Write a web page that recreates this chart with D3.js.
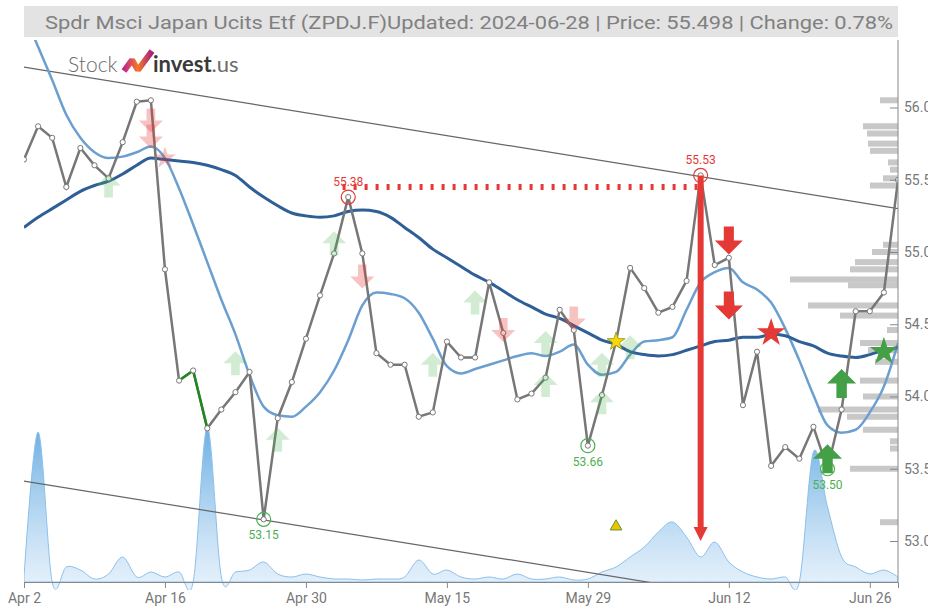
<!DOCTYPE html>
<meta charset="utf-8">
<script src="https://d3js.org/d3.v7.min.js"></script>
<body style="margin:0;background:#fff">
<div id="chart"></div>
</body>
<style>
text { font-family: Roboto, "Liberation Sans", sans-serif; }
.axis text { fill: #777; font-size: 14px; }
.axis line, .axis path { stroke: #888; }
</style>
<script>
// ---- data ----
var title = "Spdr Msci Japan Ucits Etf (ZPDJ.F)Updated: 2024-06-28 | Price: 55.498 | Change: 0.78%";
var tickLabels = ["Apr 2", "Apr 16", "Apr 30", "May 15", "May 29", "Jun 12", "Jun 26"];
var tickIndex = [0, 10, 20, 30, 40, 50, 60];
var priceTicks = [53.0, 53.5, 54.0, 54.5, 55.0, 55.5, 56.0];

// one close per trading day, Apr 2 .. Jun 28
var price = [55.64, 55.87, 55.79, 55.45, 55.72, 55.60, 55.51, 55.76, 56.04, 56.05,
  54.88, 54.11, 54.18, 53.78, 53.91, 54.03, 54.17, 53.15, 53.85, 54.10,
  54.40, 54.70, 54.99, 55.38, 54.99, 54.30, 54.22, 54.22, 53.86, 53.89,
  54.38, 54.27, 54.27, 54.79, 54.44, 53.98, 54.02, 54.13, 54.60, 54.46,
  53.66, 54.01, 54.38, 54.89, 54.75, 54.58, 54.62, 54.80, 55.53, 54.91,
  54.96, 53.94, 54.31, 53.52, 53.65, 53.57, 53.79, 53.50, 53.91, 54.59,
  54.59, 54.72, 55.498];

var maLong = [55.17, 55.24, 55.30, 55.36, 55.42, 55.46, 55.49, 55.54, 55.60, 55.65,
  55.64, 55.63, 55.62, 55.60, 55.57, 55.53, 55.45, 55.38, 55.32, 55.27,
  55.25, 55.24, 55.25, 55.28, 55.29, 55.28, 55.24, 55.17, 55.10, 55.02,
  54.96, 54.90, 54.84, 54.79, 54.73, 54.67, 54.62, 54.57, 54.54, 54.49,
  54.44, 54.39, 54.36, 54.31, 54.29, 54.28, 54.29, 54.32, 54.35, 54.38,
  54.39, 54.41, 54.41, 54.43, 54.42, 54.38, 54.35, 54.30, 54.28, 54.27,
  54.29, 54.32, 54.34];

var maShort = [56.65, 56.42, 56.19, 55.95, 55.79, 55.69, 55.65, 55.66, 55.69, 55.73,
  55.65, 55.44, 55.19, 54.93, 54.67, 54.43, 54.15, 53.93, 53.87, 53.86,
  53.93, 54.03, 54.18, 54.39, 54.63, 54.72, 54.71, 54.68, 54.58, 54.40,
  54.21, 54.16, 54.19, 54.22, 54.25, 54.28, 54.30, 54.28, 54.31, 54.36,
  54.22, 54.15, 54.17, 54.29, 54.38, 54.39, 54.41, 54.60, 54.79, 54.86,
  54.89, 54.79, 54.74, 54.65, 54.47, 54.25, 54.01, 53.80, 53.75, 53.77,
  53.89, 54.07, 54.37];

var volume = [5, 150, 0, 15, 12, 3, 8, 25, 5, 10,
  5, 10, 0, 155, 5, 10, 12, 20, 8, 5,
  8, 5, 3, 3, 2, 3, 3, 5, 22, 8,
  12, 5, 3, 5, 3, 8, 3, 3, 5, 2,
  3, 10, 15, 25, 35, 50, 60, 45, 25, 40,
  20, 10, 5, 3, 5, 0, 130, 75, 25, 15,
  8, 12, 5];

// volume by price level
var profilePrice = [56.05, 55.87, 55.82, 55.75, 55.70, 55.62, 55.57, 55.51, 55.46,
  55.05, 55.00, 54.93, 54.88, 54.81, 54.77, 54.63, 54.56, 54.46, 54.37, 54.32,
  54.24, 54.11, 54.00, 53.91, 53.86, 53.77, 53.69, 53.64, 53.50, 53.13];
var profileVolume = [18, 35, 31, 30, 28, 10, 8, 15, 28,
  15, 26, 43, 48, 108, 50, 90, 58, 11, 38, 30,
  23, 38, 35, 80, 51, 35, 8, 8, 48, 18];

var trendUpper = [[0, 56.28], [62, 55.30]];
var trendLower = [[0, 53.415], [62, 52.435]];
var resistance = [[22.6, 55.45], [48, 55.45]];
var greenRun = [11, 12, 13];

var highs = [[23, 55.38], [48, 55.53]];
var lows = [[17, 53.15], [40, 53.66], [57, 53.50]];

var softUp = [[6, 55.46], [15, 54.23], [18, 53.70], [22, 55.06], [29, 54.22], [32, 54.65],
  [37, 54.37], [37, 54.08], [41, 54.22], [41, 53.96], [43, 54.34]];
var softDown = [[9, 55.91], [9, 55.80], [24, 54.83], [34, 54.46], [39, 54.54]];
var softStar = [[10, 55.65]];
var strongDown = [[50, 55.08], [50, 54.63]];
var strongUp = [[58, 54.09], [57, 53.57]];
var redStar = [[53, 54.44]];
var greenStar = [[61, 54.31]];
var yellowStar = [[42, 54.38]];
var yellowTriangle = [[42, 53.10]];
var dropArrow = [[48, 55.53], [48, 53.0]];

// ---- layout ----
var width = 928, height = 608;
var margin = {top: 40, right: 30, bottom: 26, left: 24};

var svg = d3.select("#chart").append("svg")
  .attr("width", width).attr("height", height);

var x = d3.scaleLinear().domain([0, price.length - 1]).range([margin.left, width - margin.right]);
var y = d3.scaleLinear().domain([53, 56]).range([541, 107.5]);
var yVol = d3.scaleLinear().domain([0, 160]).range([height - margin.bottom, height - margin.bottom - 160]);
var wProf = d3.scaleLinear().domain([0, 100]).range([0, 100]);

var defs = svg.append("defs");
defs.append("clipPath").attr("id", "plot")
  .append("rect").attr("x", margin.left).attr("y", margin.top)
  .attr("width", width - margin.left - margin.right).attr("height", height - margin.top - margin.bottom);
defs.append("clipPath").attr("id", "volclip")
  .append("rect").attr("x", margin.left).attr("y", margin.top)
  .attr("width", width - margin.left - margin.right).attr("height", height - margin.top - margin.bottom + 8);

var g1 = defs.append("linearGradient").attr("id", "volgrad").attr("x1", 0).attr("y1", 0).attr("x2", 0).attr("y2", 1);
g1.append("stop").attr("offset", "0%").attr("stop-color", "#5aa6e0").attr("stop-opacity", 0.9);
g1.append("stop").attr("offset", "100%").attr("stop-color", "#d8e9f8").attr("stop-opacity", 0.6);

var g2 = defs.append("linearGradient").attr("id", "logograd").attr("x1", 0).attr("y1", 0).attr("x2", 1).attr("y2", 0);
g2.append("stop").attr("offset", "0%").attr("stop-color", "#c2238c");
g2.append("stop").attr("offset", "50%").attr("stop-color", "#f47a22");
g2.append("stop").attr("offset", "100%").attr("stop-color", "#a51e86");

// title bar
svg.append("rect").attr("x", 24).attr("y", 6).attr("width", 874).attr("height", 31).attr("fill", "#e3e3e3");
svg.append("text").attr("x", 893).attr("y", 29).attr("text-anchor", "end")
  .attr("font-size", 19).attr("fill", "#808080")
  .attr("textLength", 848).attr("lengthAdjust", "spacingAndGlyphs")
  .text(title);

// logo
var logo = svg.append("g").attr("transform", "translate(68,72)");
logo.append("text").attr("x", 0).attr("y", 0).attr("font-family", "Lato").attr("font-weight", 300)
  .attr("font-size", 21).attr("fill", "#6b6b6b").style("font-family", "Lato").text("Stock");
logo.append("path").attr("d", "M56,-1 L64,-12 L70,-2 L84,-21")
  .attr("fill", "none").attr("stroke", "url(#logograd)").attr("stroke-width", 6).attr("stroke-linejoin", "bevel");
var inv = logo.append("text").attr("x", 85).attr("y", 0).attr("font-size", 22).style("font-family", "Lato");
inv.append("tspan").attr("font-weight", 700).attr("fill", "#3a3a3a").text("invest");
inv.append("tspan").attr("font-weight", 400).attr("fill", "#6b6b6b").text(".us");

// volume area
var area = d3.area()
  .x(function(d, i) { return x(i); })
  .y0(yVol(0))
  .y1(function(d) { return yVol(d); })
  .curve(d3.curveCardinal);
svg.append("path").datum(volume)
  .attr("clip-path", "url(#volclip)")
  .attr("fill", "url(#volgrad)")
  .attr("stroke", "#8cc0ea").attr("stroke-width", 1)
  .attr("d", area);

// volume profile
svg.append("g").selectAll("rect")
  .data(profilePrice)
  .enter().append("rect")
    .attr("x", function(d, i) { return x(price.length - 1) - wProf(profileVolume[i]); })
    .attr("y", function(d) { return y(d) - 3; })
    .attr("width", function(d, i) { return wProf(profileVolume[i]); })
    .attr("height", 6)
    .attr("fill", "#c8c8c8");

var plot = svg.append("g").attr("clip-path", "url(#plot)");

var seg = d3.line().x(function(d) { return x(d[0]); }).y(function(d) { return y(d[1]); });
plot.append("path").attr("d", seg(trendUpper)).attr("stroke", "#666").attr("stroke-width", 1.2).attr("fill", "none");
plot.append("path").attr("d", seg(trendLower)).attr("stroke", "#666").attr("stroke-width", 1.2).attr("fill", "none");

var line = d3.line()
  .x(function(d, i) { return x(i); })
  .y(function(d) { return y(d); })
  .curve(d3.curveMonotoneX);

plot.append("path").datum(maShort).attr("d", line)
  .attr("fill", "none").attr("stroke", "#6b9fd0").attr("stroke-width", 2.5);
plot.append("path").datum(maLong).attr("d", line)
  .attr("fill", "none").attr("stroke", "#2e5f97").attr("stroke-width", 3);

// resistance
plot.append("path").attr("d", seg(resistance))
  .attr("stroke", "#e53935").attr("stroke-width", 6).attr("stroke-dasharray", "3,8").attr("fill", "none");

// price line
var pline = d3.line().x(function(d, i) { return x(i); }).y(function(d) { return y(d); });
plot.append("path").datum(price).attr("d", pline)
  .attr("fill", "none").attr("stroke", "#777").attr("stroke-width", 2.5);
plot.append("path")
  .attr("d", d3.line().x(function(d) { return x(d); }).y(function(d) { return y(price[d]); })(greenRun))
  .attr("fill", "none").attr("stroke", "#1e8a1e").attr("stroke-width", 2.5);

plot.selectAll("circle.pt").data(price).enter().append("circle")
  .attr("class", "pt")
  .attr("cx", function(d, i) { return x(i); })
  .attr("cy", function(d) { return y(d); })
  .attr("r", 2.6)
  .attr("fill", "#fff").attr("stroke", "#777").attr("stroke-width", 1);

// drop arrow
plot.append("line")
  .attr("x1", x(dropArrow[0][0])).attr("x2", x(dropArrow[1][0]))
  .attr("y1", y(dropArrow[0][1])).attr("y2", y(dropArrow[1][1]) - 12)
  .attr("stroke", "#e53935").attr("stroke-width", 6);
plot.append("path")
  .attr("transform", "translate(" + x(dropArrow[1][0]) + "," + y(dropArrow[1][1]) + ")")
  .attr("d", "M-7,-14 L7,-14 L0,0 Z").attr("fill", "#e53935");

// signals
function arrowPath(s, up) {
  var h = s / 2, b = s * 0.18;
  var p = "M0," + (-h) + " L" + h + ",0 L" + b + ",0 L" + b + "," + h + " L" + (-b) + "," + h + " L" + (-b) + ",0 L" + (-h) + ",0 Z";
  return up ? p : "M0," + h + " L" + h + ",0 L" + b + ",0 L" + b + "," + (-h) + " L" + (-b) + "," + (-h) + " L" + (-b) + ",0 L" + (-h) + ",0 Z";
}
function drawMarks(data, d, fill, op, stroke) {
  plot.append("g").selectAll("path").data(data).enter().append("path")
    .attr("transform", function(p) { return "translate(" + x(p[0]) + "," + y(p[1]) + ")"; })
    .attr("d", d)
    .attr("fill", fill).attr("fill-opacity", op)
    .attr("stroke", stroke || "none").attr("stroke-width", 1);
}
drawMarks(softUp, arrowPath(24, true), "#4caf50", 0.25);
drawMarks(softDown, arrowPath(24, false), "#e53935", 0.3);
drawMarks(softStar, d3.symbol(d3.symbolStar, 150)(), "#e53935", 0.3);
drawMarks(strongDown, arrowPath(28, false), "#e53935", 1);
drawMarks(redStar, d3.symbol(d3.symbolStar, 250)(), "#e53935", 1);

// highs and lows
plot.selectAll("circle.hi").data(highs).enter().append("circle")
  .attr("cx", function(d) { return x(d[0]); }).attr("cy", function(d) { return y(d[1]); })
  .attr("r", 7).attr("fill", "none").attr("stroke", "#e53935").attr("stroke-width", 1.2);
svg.selectAll("text.hi").data(highs).enter().append("text")
  .attr("x", function(d) { return x(d[0]); }).attr("y", function(d) { return y(d[1]) - 11; })
  .attr("text-anchor", "middle").attr("font-size", 12).attr("fill", "#e53935")
  .text(function(d) { return d[1].toFixed(2); });
plot.selectAll("circle.lo").data(lows).enter().append("circle")
  .attr("cx", function(d) { return x(d[0]); }).attr("cy", function(d) { return y(d[1]); })
  .attr("r", 7).attr("fill", "none").attr("stroke", "#4caf50").attr("stroke-width", 1.2);

drawMarks(strongUp, arrowPath(29, true), "#43a047", 1);
drawMarks(greenStar, d3.symbol(d3.symbolStar, 250)(), "#43a047", 1);
drawMarks(yellowStar, d3.symbol(d3.symbolStar, 100)(), "#ffd600", 1, "#9aa52a");
drawMarks(yellowTriangle, d3.symbol(d3.symbolTriangle, 60)(), "#f2c200", 1, "#5a9a30");

svg.selectAll("text.lo").data(lows).enter().append("text")
  .attr("x", function(d) { return x(d[0]); }).attr("y", function(d) { return y(d[1]) + 20; })
  .attr("text-anchor", "middle").attr("font-size", 12).attr("fill", "#4caf50")
  .text(function(d) { return d[1].toFixed(2); });

// axes
svg.append("g").attr("class", "axis")
  .attr("transform", "translate(0," + (height - margin.bottom) + ")")
  .call(d3.axisBottom(x).tickValues(tickIndex)
    .tickFormat(function(d, i) { return tickLabels[i]; })
    .tickSizeOuter(0).tickSize(6).tickPadding(5));

svg.append("g").attr("class", "axis")
  .attr("transform", "translate(" + x(price.length - 1) + ",0)")
  .call(d3.axisRight(y).tickValues(priceTicks)
    .tickFormat(d3.format(".1f"))
    .tickSizeInner(-8).tickSizeOuter(0).tickPadding(6))
  .select(".domain").attr("d", "M0," + margin.top + "V" + (height - margin.bottom));
</script>
